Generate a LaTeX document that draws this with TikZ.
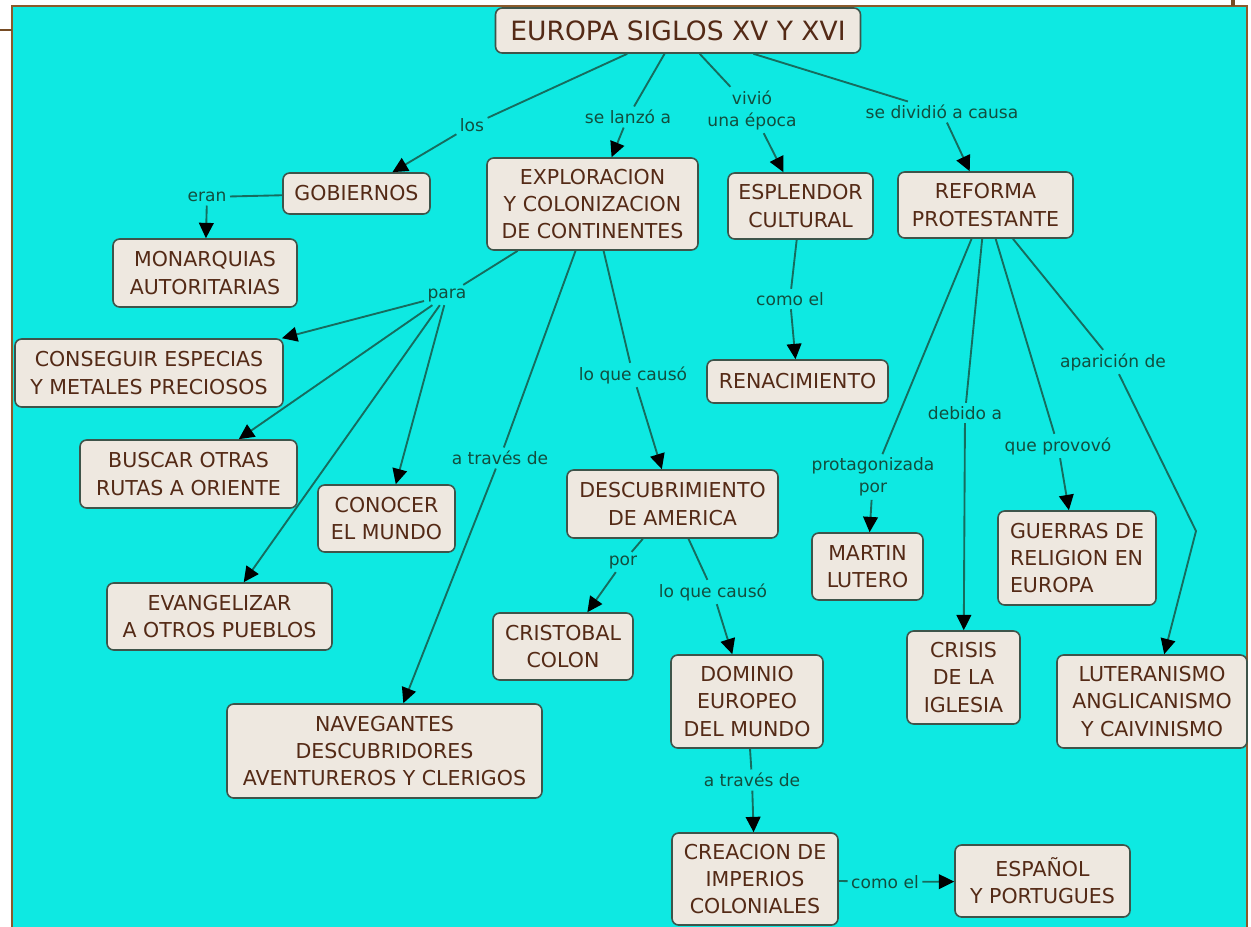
\documentclass[tikz,border=0pt]{standalone}
\usepackage{fontspec}
\setmainfont{DejaVu Sans}
\usetikzlibrary{arrows.meta}
\definecolor{fondo}{RGB}{14,233,226}
\definecolor{caja}{RGB}{238,232,224}
\definecolor{borde}{RGB}{62,84,74}
\definecolor{textocaja}{RGB}{84,42,22}
\definecolor{textoenlace}{RGB}{18,78,62}
\definecolor{verdelinea}{RGB}{22,108,94}
\definecolor{marco}{RGB}{139,90,43}

\begin{document}
\begin{tikzpicture}[x=0.75pt,y=-0.75pt,
        concepto/.style={draw=borde,line width=1.2pt,fill=caja,rounded corners=5pt,text=textocaja,
            font=\fontsize{15.4}{20.3}\selectfont,align=center,inner sep=0pt},
        tam/.style 2 args={minimum width=#1*0.75pt,minimum height=#2*0.75pt},
        enlace/.style={text=textoenlace,font=\fontsize{12.8}{16.5}\selectfont,align=center,inner sep=2.5pt},
        linea/.style={draw=verdelinea,line width=1.4pt},
        flecha/.style={linea,-{Triangle[length=11.5pt,width=11pt,color=black]}}]
        \useasboundingbox (0,0) rectangle (1251,926);
        \clip (0,0) rectangle (1251,926);
        \fill[white] (0,0) rectangle (1251,926);
        \draw[marco,fill=fondo,line width=0.9pt] (12,6) rectangle (1247,940);
        \draw[marco!85!black,line width=2.2pt] (0,30) -- (12,30);
        \draw[marco!85!black,line width=3pt] (1233,0) -- (1233,6);

        \node[concepto,tam={365}{45},font=\fontsize{19.9}{24}\selectfont] (tit) at (678,30.5) {EUROPA SIGLOS XV Y XVI};
        \node[concepto,tam={147}{41}] (gob) at (356.5,193.5) {GOBIERNOS};
        \node[concepto,tam={184}{68}] (mon) at (205,273) {MONARQUIAS\\AUTORITARIAS};
        \node[concepto,tam={211}{92}] (expl) at (592.5,204) {EXPLORACION\\Y COLONIZACION\\DE CONTINENTES};
        \node[concepto,tam={145}{66}] (espl) at (800.5,206) {ESPLENDOR\\CULTURAL};
        \node[concepto,tam={175}{66}] (ref) at (985.5,205) {REFORMA\\PROTESTANTE};
        \node[concepto,tam={268}{68}] (cons) at (149,373) {CONSEGUIR ESPECIAS\\Y METALES PRECIOSOS};
        \node[concepto,tam={217}{68}] (busc) at (188.5,474) {BUSCAR OTRAS\\RUTAS A ORIENTE};
        \node[concepto,tam={137}{67}] (cono) at (386.5,518.5) {CONOCER\\EL MUNDO};
        \node[concepto,tam={225}{67}] (evan) at (219.5,616.5) {EVANGELIZAR\\A OTROS PUEBLOS};
        \node[concepto,tam={315}{94}] (nave) at (384.5,751) {NAVEGANTES\\DESCUBRIDORES\\AVENTUREROS Y CLERIGOS};
        \node[concepto,tam={181}{43}] (rena) at (797.5,381.5) {RENACIMIENTO};
        \node[concepto,tam={211}{68}] (desc) at (672.5,504) {DESCUBRIMIENTO\\DE AMERICA};
        \node[concepto,tam={140}{67}] (colon) at (563,646.5) {CRISTOBAL\\COLON};
        \node[concepto,tam={111}{67}] (lutero) at (867.5,566.5) {MARTIN\\LUTERO};
        \node[concepto,tam={158}{94},align=left] (guerras) at (1077,558) {GUERRAS DE\\RELIGION EN\\EUROPA};
        \node[concepto,tam={113}{93}] (crisis) at (963.5,677.5) {CRISIS\\DE LA\\IGLESIA};
        \node[concepto,tam={190}{93}] (lute) at (1152,701.5) {LUTERANISMO\\ANGLICANISMO\\Y CAIVINISMO};
        \node[concepto,tam={152}{93}] (domi) at (747,701.5) {DOMINIO\\EUROPEO\\DEL MUNDO};
        \node[concepto,tam={166}{92}] (crea) at (755,879) {CREACION DE\\IMPERIOS\\COLONIALES};
        \node[concepto,tam={175}{72}] (espa) at (1042.5,881) {ESPAÑOL\\Y PORTUGUES};

        \node[enlace] (los) at (472,125) {los};
        \node[enlace] (lanzo) at (628,117) {se lanzó a};
        \node[enlace] (vivio) at (752,110) {vivió\\una época};
        \node[enlace] (dividio) at (942,112) {se dividió a causa};
        \node[enlace] (eran) at (207,197) {eran};
        \node[enlace] (para) at (447,295) {para};
        \node[enlace] (causo) at (633,375) {lo que causó};
        \node[enlace] (comoel) at (790,299) {como el};
        \node[enlace] (traves) at (500,458) {a través de};
        \node[enlace] (por) at (623,562) {por};
        \node[enlace] (causob) at (713,592) {lo que causó};
        \node[enlace] (travesb) at (752,780) {a través de};
        \node[enlace] (comoelb) at (885,882) {como el};
        \node[enlace] (protag) at (873,477) {protagonizada\\por};
        \node[enlace] (debido) at (965,413) {debido a};
        \node[enlace] (provoco) at (1058,446) {que provovó};
        \node[enlace] (aparicion) at (1113,362) {aparición de};
        \coordinate (codo) at (1196,531);

        \draw[linea] (tit) -- (los);
        \draw[flecha] (los) -- (gob);
        \draw[linea] (tit) -- (lanzo);
        \draw[flecha] (lanzo) -- (expl);
        \draw[linea] (tit) -- (vivio);
        \draw[flecha] (vivio) -- (espl);
        \draw[linea] (tit) -- (dividio);
        \draw[flecha] (dividio) -- (ref);
        \draw[linea] (gob) -- (eran);
        \draw[flecha] (eran) -- (mon);
        \draw[linea] (expl) -- (para);
        \draw[flecha] (para) -- (cons);
        \draw[flecha] (para) -- (busc);
        \draw[flecha] (para) -- (cono);
        \draw[flecha] (para) -- (evan);
        \draw[linea] (expl) -- (traves);
        \draw[flecha] (traves) -- (nave);
        \draw[linea] (expl) -- (causo);
        \draw[flecha] (causo) -- (desc);
        \draw[linea] (espl) -- (comoel);
        \draw[flecha] (comoel) -- (rena);
        \draw[linea] (desc) -- (por);
        \draw[flecha] (por) -- (colon);
        \draw[linea] (desc) -- (causob);
        \draw[flecha] (causob) -- (domi);
        \draw[linea] (domi) -- (travesb);
        \draw[flecha] (travesb) -- (crea);
        \draw[linea] (crea) -- (comoelb);
        \draw[flecha] (comoelb) -- (espa);
        \draw[linea] (ref) -- (protag);
        \draw[flecha] (protag) -- (lutero);
        \draw[linea] (ref) -- (debido);
        \draw[flecha] (debido) -- (crisis);
        \draw[linea] (ref) -- (provoco);
        \draw[flecha] (provoco) -- (guerras);
        \draw[linea] (ref) -- (aparicion);
        \draw[flecha] (aparicion) -- (codo) -- (lute);
    \end{tikzpicture}
\end{document}
